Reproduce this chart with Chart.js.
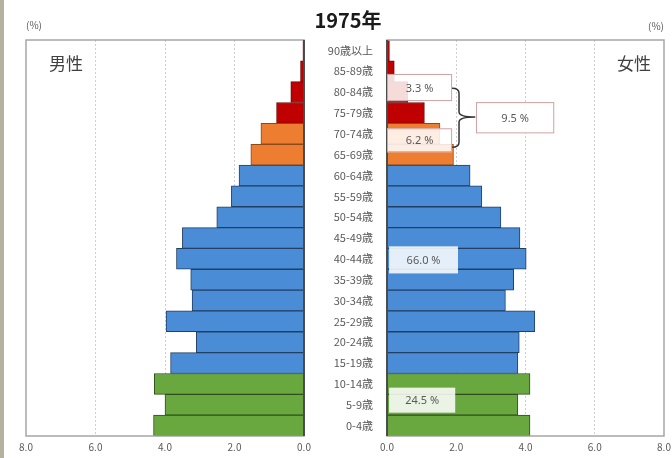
<!DOCTYPE html>
<html>
<head>
<meta charset="utf-8">
<script src="https://cdn.jsdelivr.net/npm/chart.js@4.4.1/dist/chart.umd.min.js"></script>
<style>
  html, body { margin: 0; padding: 0; background: #fff; }
  #wrap { position: relative; width: 672px; height: 458px; overflow: hidden; }
  #wrap canvas { position: absolute; left: 0; top: 0; }
  #edge { position: absolute; left: 0; top: 0; width: 4px; height: 458px; background: #b3b19f; }
</style>
</head>
<body>
<div id="wrap">
  <canvas id="male" width="672" height="458"></canvas>
  <canvas id="female" width="672" height="458"></canvas>
  <div id="edge"></div>
</div>
<script>
// 年齢階級（上から高齢順）と男女別の人口割合（%）
const ageLabels = ['90歳以上', '85-89歳', '80-84歳', '75-79歳', '70-74歳', '65-69歳', '60-64歳',
  '55-59歳', '50-54歳', '45-49歳', '40-44歳', '35-39歳', '30-34歳', '25-29歳', '20-24歳',
  '15-19歳', '10-14歳', '5-9歳', '0-4歳'];
const maleShare = [0.03, 0.10, 0.38, 0.79, 1.24, 1.53, 1.87, 2.09, 2.51, 3.50, 3.67, 3.26,
  3.22, 3.97, 3.10, 3.84, 4.31, 4.00, 4.33];
const femaleShare = [0.07, 0.21, 0.60, 1.08, 1.53, 1.92, 2.40, 2.74, 3.29, 3.84, 4.02, 3.66,
  3.42, 4.27, 3.82, 3.78, 4.13, 3.78, 4.13];
const xTicks = [0, 2, 4, 6, 8];
const yearTitle = '1975年';
const sideTitles = ['男性', '女性'];
const groupNotes = ['3.3 %', '6.2 %', '9.5 %', '66.0 %', '24.5 %'];

Chart.defaults.font.family = '"Noto Sans CJK JP", "Noto Sans", sans-serif';

// 年齢区分ごとの色（75歳以上／65-74歳／15-64歳／0-14歳）
function fillFor(label) {
  const age = parseInt(label, 10);
  if (age >= 75) return '#c00000';
  if (age >= 65) return '#ed7d31';
  if (age >= 15) return '#4a8cd6';
  return '#69a83f';
}
function edgeFor(label) {
  const age = parseInt(label, 10);
  if (age >= 75) return '#6e0a0a';
  if (age >= 65) return '#8a4a1c';
  if (age >= 15) return '#233f63';
  return '#2f4d1f';
}

const frame = {
  id: 'frame',
  afterDatasetsDraw(chart) {
    const { ctx, chartArea: a } = chart;
    ctx.save();
    ctx.strokeStyle = '#a6a6a6';
    ctx.lineWidth = 1.5;
    ctx.strokeRect(a.left, a.top, a.right - a.left, a.bottom - a.top);
    const x0 = chart.scales.x.getPixelForValue(0);
    ctx.strokeStyle = '#2a2a2a';
    ctx.beginPath();
    ctx.moveTo(x0, a.top);
    ctx.lineTo(x0, a.bottom);
    ctx.stroke();
    ctx.restore();
  }
};

// 左側：中央の年齢ラベル、年次タイトル、「男性」、単位
const maleText = {
  id: 'maleText',
  afterDraw(chart) {
    const { ctx, chartArea: a } = chart;
    const ys = chart.scales.y;
    ctx.save();
    ctx.fillStyle = '#595959';
    ctx.font = '11px "Noto Sans CJK JP", sans-serif';
    ctx.textAlign = 'right';
    ctx.textBaseline = 'middle';
    ageLabels.forEach((l, i) => ctx.fillText(l, 373, ys.getPixelForValue(i)));

    ctx.fillStyle = '#1a1a1a';
    ctx.font = 'bold 20px "Noto Sans CJK JP", sans-serif';
    ctx.textAlign = 'center';
    ctx.fillText(yearTitle, 348, 20);

    ctx.fillStyle = '#404040';
    ctx.font = '17px "Noto Sans CJK JP", sans-serif';
    ctx.textAlign = 'left';
    ctx.fillText(sideTitles[0], a.left + 23, 64);

    ctx.fillStyle = '#595959';
    ctx.font = '10px "Noto Sans CJK JP", sans-serif';
    ctx.fillText('(%)', a.left, 25);
    ctx.restore();
  }
};

// 右側：「女性」、単位、区分ごとの割合ラベルと括弧
const femaleText = {
  id: 'femaleText',
  afterDraw(chart) {
    const { ctx, chartArea: a } = chart;
    const xs = chart.scales.x, ys = chart.scales.y;
    const rowH = ys.getPixelForValue(1) - ys.getPixelForValue(0);
    ctx.save();
    ctx.fillStyle = '#404040';
    ctx.font = '17px "Noto Sans CJK JP", sans-serif';
    ctx.textAlign = 'right';
    ctx.textBaseline = 'middle';
    ctx.fillText(sideTitles[1], a.right - 13, 64);

    ctx.fillStyle = '#595959';
    ctx.font = '10px "Noto Sans CJK JP", sans-serif';
    ctx.fillText('(%)', a.right, 26);

    // [x開始, x終了, 中心行, 行数, 枠線]
    const boxes = [
      [0, 1.88, 1.78, 1.3, true],
      [0, 1.88, 4.31, 1.15, true],
      [2.57, 4.83, 3.23, 1.5, true],
      [0.06, 2.05, 10.05, 1.3, false],
      [0.06, 1.97, 16.78, 1.2, false]
    ];
    boxes.forEach(([v0, v1, row, rows, stroke], k) => {
      const x0 = xs.getPixelForValue(v0), x1 = xs.getPixelForValue(v1);
      const cy = ys.getPixelForValue(row), h = rows * rowH;
      ctx.fillStyle = 'rgba(255,255,255,0.86)';
      ctx.fillRect(x0, cy - h / 2, x1 - x0, h);
      if (stroke) {
        ctx.strokeStyle = '#cfa3a3';
        ctx.lineWidth = 1;
        ctx.strokeRect(x0 + 0.5, cy - h / 2 + 0.5, x1 - x0 - 1, h - 1);
      }
      ctx.fillStyle = '#595959';
      ctx.font = '11px "Noto Sans", sans-serif';
      ctx.textAlign = 'center';
      ctx.fillText(groupNotes[k], (x0 + x1) / 2, cy + 1);
    });

    // 65歳以上をまとめる括弧
    const xa = xs.getPixelForValue(1.88), xb = xs.getPixelForValue(2.08), xt = xs.getPixelForValue(2.55);
    const yt = ys.getPixelForValue(1.81), ym = ys.getPixelForValue(3.2), yb = ys.getPixelForValue(4.64);
    ctx.strokeStyle = '#333';
    ctx.lineWidth = 1.5;
    ctx.beginPath();
    ctx.moveTo(xa, yt);
    ctx.quadraticCurveTo(xb, yt, xb, yt + 5);
    ctx.lineTo(xb, ym - 5);
    ctx.quadraticCurveTo(xb, ym, xt, ym);
    ctx.quadraticCurveTo(xb, ym, xb, ym + 5);
    ctx.lineTo(xb, yb - 5);
    ctx.quadraticCurveTo(xb, yb, xa, yb);
    ctx.stroke();
    ctx.restore();
  }
};

function pyramid(id, values, reverse, padding, extra) {
  return new Chart(document.getElementById(id), {
    type: 'bar',
    data: {
      labels: ageLabels,
      datasets: [{
        data: values,
        backgroundColor: ageLabels.map(fillFor),
        borderColor: ageLabels.map(edgeFor),
        borderWidth: 1,
        barPercentage: 1,
        categoryPercentage: 1
      }]
    },
    options: {
      indexAxis: 'y',
      responsive: false,
      animation: false,
      layout: { padding },
      plugins: { legend: { display: false }, tooltip: { enabled: false } },
      scales: {
        x: {
          min: xTicks[0],
          max: xTicks[xTicks.length - 1],
          reverse,
          afterBuildTicks: s => { s.ticks = xTicks.map(v => ({ value: v })); },
          // 端の目盛ラベル分の余白は外側の padding で確保する
          afterFit: s => { s.paddingLeft = 0; s.paddingRight = 0; },
          ticks: {
            callback: v => v.toFixed(1),
            color: '#595959',
            font: { size: 10 },
            padding: 5,
            maxRotation: 0
          },
          grid: {
            drawTicks: false,
            lineWidth: 1,
            color: c => (c.tick && c.tick.value > 0 && c.tick.value < 8) ? '#cfcfcf' : 'rgba(0,0,0,0)'
          },
          border: { display: false, dash: [2, 2] }
        },
        y: { display: false }
      }
    },
    plugins: [frame, extra]
  });
}

pyramid('male', maleShare, true, { left: 26, right: 368, top: 40, bottom: 0 }, maleText);
pyramid('female', femaleShare, false, { left: 387, right: 8, top: 40, bottom: 0 }, femaleText);
</script>
</body>
</html>
